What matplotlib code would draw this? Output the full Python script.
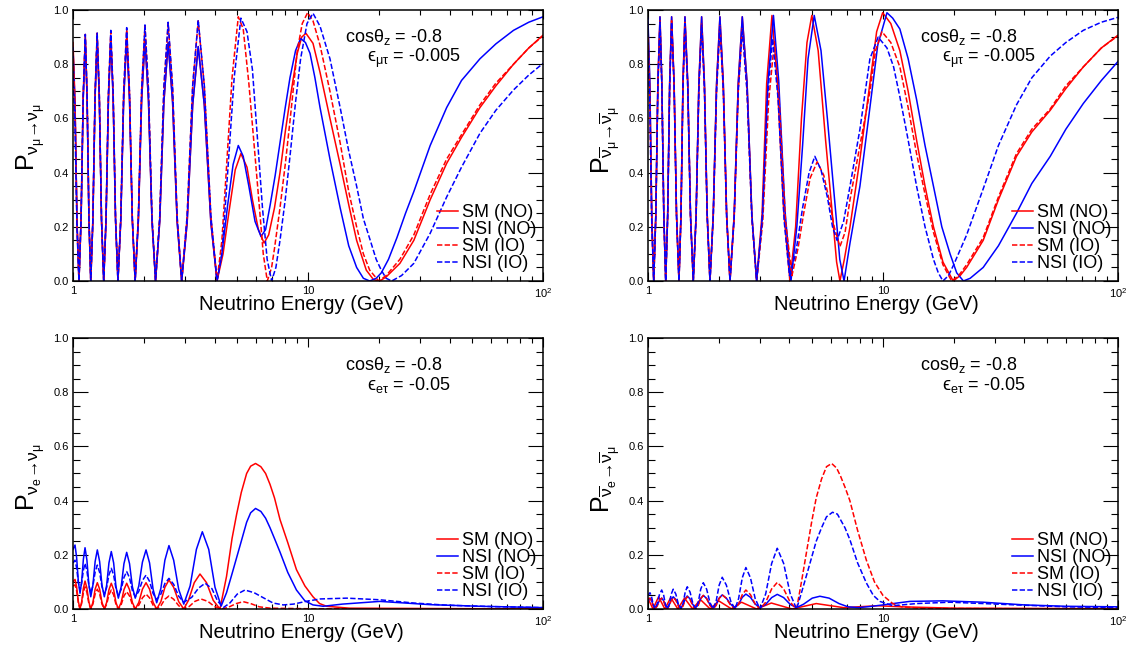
import matplotlib
matplotlib.use('Agg')
import matplotlib.pyplot as plt
from matplotlib.ticker import FixedLocator, FixedFormatter, MultipleLocator, LogLocator, NullFormatter, FormatStrFormatter

plt.rcParams['font.family'] = ['Liberation Sans', 'DejaVu Sans']
plt.rcParams['mathtext.fontset'] = 'custom'
plt.rcParams['mathtext.rm'] = 'Liberation Sans'
plt.rcParams['mathtext.it'] = 'Liberation Sans:italic'
plt.rcParams['mathtext.bf'] = 'Liberation Sans:bold'
plt.rcParams['mathtext.sf'] = 'Liberation Sans'
plt.rcParams['mathtext.fallback'] = 'stixsans'

RED = '#ff0000'
BLUE = '#0000ff'

# ---- top left: P(nu_mu -> nu_mu), eps_mutau = -0.005 ----
tl_E_low = [1.0, 1.02, 1.04, 1.06, 1.082, 1.105, 1.128, 1.148, 1.169, 1.19, 1.215, 1.241, 1.267, 1.294, 1.322,
            1.351, 1.382, 1.415, 1.448, 1.482, 1.517, 1.553, 1.597, 1.643, 1.692, 1.739, 1.788, 1.838, 1.897,
            1.959, 2.024, 2.094, 2.168, 2.245, 2.339, 2.436, 2.54, 2.653, 2.773, 2.90, 3.06, 3.23, 3.41, 3.62,
            3.86, 4.10]
tl_sm_no_low = [0.88, 0.66, 0.22, 0.0,
                0.225, 0.675, 0.90, 0.675, 0.225, 0.0,
                0.225, 0.675, 0.90, 0.675, 0.225, 0.0,
                0.225, 0.675, 0.90, 0.675, 0.225, 0.0,
                0.225, 0.675, 0.90, 0.675, 0.225, 0.0,
                0.222, 0.668, 0.89, 0.668, 0.222, 0.0,
                0.22, 0.66, 0.88, 0.66, 0.22, 0.0,
                0.216, 0.65, 0.865, 0.65, 0.216, 0.0]
tl_nsi_no_low = [0.86, 0.645, 0.215, 0.0,
                 0.224, 0.671, 0.895, 0.671, 0.224, 0.0,
                 0.225, 0.675, 0.90, 0.675, 0.225, 0.0,
                 0.224, 0.671, 0.895, 0.671, 0.224, 0.0,
                 0.224, 0.671, 0.895, 0.671, 0.224, 0.0,
                 0.222, 0.668, 0.89, 0.668, 0.222, 0.0,
                 0.22, 0.66, 0.88, 0.66, 0.22, 0.0,
                 0.216, 0.65, 0.865, 0.65, 0.216, 0.0]
tl_sm_io_low = [0.85, 0.64, 0.21, 0.0,
                0.228, 0.683, 0.91, 0.683, 0.228, 0.0,
                0.229, 0.686, 0.915, 0.686, 0.229, 0.0,
                0.23, 0.69, 0.92, 0.69, 0.23, 0.0,
                0.233, 0.698, 0.93, 0.698, 0.233, 0.0,
                0.235, 0.705, 0.94, 0.705, 0.235, 0.0,
                0.238, 0.713, 0.95, 0.713, 0.238, 0.0,
                0.24, 0.72, 0.96, 0.72, 0.24, 0.0]
tl_nsi_io_low = [0.76, 0.57, 0.19, 0.0,
                 0.228, 0.683, 0.91, 0.683, 0.228, 0.0,
                 0.229, 0.686, 0.915, 0.686, 0.229, 0.0,
                 0.231, 0.694, 0.925, 0.694, 0.231, 0.0,
                 0.234, 0.701, 0.935, 0.701, 0.234, 0.0,
                 0.236, 0.709, 0.945, 0.709, 0.236, 0.0,
                 0.239, 0.716, 0.955, 0.716, 0.239, 0.0,
                 0.241, 0.722, 0.963, 0.722, 0.241, 0.0]

tl_sm_no_E = [4.35, 4.6, 4.9, 5.18, 5.5, 5.8, 6.15, 6.5, 6.8, 7.2, 7.6, 8.0, 8.38, 9.0, 9.4, 9.8, 10.5, 11.25,
              12.4, 13.7, 15.0, 16.1, 17.7, 19.0, 20.2, 21.5, 24.6, 28.2, 33.1, 38.9, 45, 53.9, 63, 74.9, 87, 100]
tl_sm_no_P = [0.1, 0.25, 0.41, 0.47, 0.42, 0.30, 0.19, 0.14, 0.17, 0.27, 0.40, 0.55, 0.67, 0.84, 0.90, 0.914,
              0.877, 0.77, 0.60, 0.43, 0.27, 0.15, 0.04, 0.005, 0.0, 0.015, 0.065, 0.15, 0.30, 0.434, 0.53, 0.64,
              0.72, 0.80, 0.86, 0.907]
tl_nsi_no_E = [4.3, 4.55, 4.8, 5.05, 5.3, 5.6, 5.95, 6.31, 6.6, 6.9, 7.25, 7.6, 8.0, 8.38, 8.85, 9.3, 9.75, 10.2,
               10.7, 11.25, 12.4, 13.7, 14.9, 16.1, 17.2, 18.3, 19.5, 20.5, 22.0, 23.9, 26.0, 28.2, 33.1, 38.9,
               45, 53.9, 63, 74.9, 87, 100]
tl_nsi_no_P = [0.1, 0.28, 0.43, 0.50, 0.46, 0.35, 0.22, 0.164, 0.19, 0.28, 0.39, 0.51, 0.64, 0.75, 0.85, 0.895,
               0.88, 0.84, 0.75, 0.64, 0.45, 0.27, 0.13, 0.05, 0.01, 0.0, 0.01, 0.03, 0.08, 0.16, 0.25, 0.33,
               0.50, 0.64, 0.74, 0.82, 0.875, 0.925, 0.955, 0.975]
tl_sm_io_E = [4.3, 4.5, 4.75, 5.05, 5.3, 5.6, 5.9, 6.2, 6.45, 6.71, 7.0, 7.2, 7.6, 8.0, 8.38, 9.0, 9.45, 9.96,
              10.5, 11.25, 12.4, 13.7, 14.9, 16.1, 17.2, 18.3, 20.0, 21.5, 24.6, 28.2, 33.1, 38.9, 45, 53.9, 63,
              74.9, 87, 100]
tl_sm_io_P = [0.15, 0.42, 0.75, 0.975, 0.93, 0.73, 0.5, 0.28, 0.1, 0.0, 0.05, 0.12, 0.27, 0.43, 0.59, 0.85,
              0.95, 0.99, 0.96, 0.87, 0.70, 0.51, 0.33, 0.2, 0.1, 0.04, 0.0, 0.02, 0.08, 0.17, 0.32, 0.45, 0.54,
              0.65, 0.73, 0.80, 0.86, 0.905]
tl_nsi_io_E = [4.3, 4.55, 4.85, 5.18, 5.5, 5.8, 6.1, 6.4, 6.7, 7.0, 7.3, 7.6, 8.0, 8.38, 8.85, 9.3, 9.9, 10.5,
               11.25, 12.4, 13.7, 14.9, 16.1, 17.2, 18.4, 19.5, 20.5, 21.5, 22.7, 25.0, 28.2, 33.1, 38.9, 45,
               53.9, 63, 74.9, 87, 100]
tl_nsi_io_P = [0.1, 0.40, 0.75, 0.97, 0.92, 0.78, 0.52, 0.27, 0.08, 0.0, 0.05, 0.15, 0.30, 0.46, 0.66, 0.82,
               0.95, 0.988, 0.94, 0.82, 0.64, 0.48, 0.35, 0.23, 0.15, 0.08, 0.04, 0.01, 0.0, 0.02, 0.065, 0.176,
               0.31, 0.42, 0.545, 0.63, 0.705, 0.76, 0.803]

# ---- top right: P(nubar_mu -> nubar_mu), eps_mutau = -0.005 ----
tr_E_low = [1.0, 1.019, 1.038, 1.058, 1.08, 1.102, 1.125, 1.146, 1.168, 1.19, 1.213, 1.237, 1.261, 1.292, 1.323,
            1.355, 1.382, 1.409, 1.437, 1.477, 1.517, 1.559, 1.603, 1.647, 1.692, 1.739, 1.787, 1.836, 1.896,
            1.959, 2.024, 2.092, 2.162, 2.234, 2.328, 2.422, 2.52, 2.641, 2.768, 2.90]
tr_sm_no_low = [0.95, 0.71, 0.24, 0.0,
                0.245, 0.73, 0.975, 0.73, 0.245, 0.0,
                0.245, 0.73, 0.975, 0.73, 0.245, 0.0,
                0.245, 0.73, 0.975, 0.73, 0.245, 0.0,
                0.245, 0.73, 0.975, 0.73, 0.245, 0.0,
                0.245, 0.73, 0.975, 0.73, 0.245, 0.0,
                0.245, 0.73, 0.975, 0.73, 0.245, 0.0]
tr_nsi_no_low = [0.97, 0.73, 0.24, 0.0,
                 0.245, 0.73, 0.975, 0.73, 0.245, 0.0,
                 0.245, 0.73, 0.975, 0.73, 0.245, 0.0,
                 0.245, 0.73, 0.975, 0.73, 0.245, 0.0,
                 0.245, 0.73, 0.975, 0.73, 0.245, 0.0,
                 0.245, 0.73, 0.975, 0.73, 0.245, 0.0,
                 0.245, 0.73, 0.975, 0.73, 0.245, 0.0]
tr_sm_io_low = [0.90, 0.675, 0.225, 0.0,
                0.24, 0.72, 0.96, 0.72, 0.24, 0.0,
                0.24, 0.72, 0.96, 0.72, 0.24, 0.0,
                0.239, 0.716, 0.955, 0.716, 0.239, 0.0,
                0.238, 0.713, 0.95, 0.713, 0.238, 0.0,
                0.236, 0.709, 0.945, 0.709, 0.236, 0.0,
                0.234, 0.701, 0.935, 0.701, 0.234, 0.0]
tr_nsi_io_low = [0.85, 0.64, 0.21, 0.0,
                 0.239, 0.716, 0.955, 0.716, 0.239, 0.0,
                 0.239, 0.716, 0.955, 0.716, 0.239, 0.0,
                 0.238, 0.713, 0.95, 0.713, 0.238, 0.0,
                 0.236, 0.709, 0.945, 0.709, 0.236, 0.0,
                 0.235, 0.705, 0.94, 0.705, 0.235, 0.0,
                 0.233, 0.698, 0.93, 0.698, 0.233, 0.0]

tr_sm_no_E = [3.06, 3.2, 3.37, 3.55, 3.78, 4.02, 4.25, 4.5, 4.75, 4.98, 5.3, 5.7, 6.1, 6.35, 6.56, 6.85, 7.24,
              7.98, 8.8, 9.4, 9.97, 10.8, 11.8, 12.8, 13.9, 15.1, 16.4, 18.0, 19.9, 21.3, 22.7, 26.7, 31, 37, 43,
              51.5, 60, 71.2, 85, 100]
tr_sm_no_P = [0.25, 0.73, 0.98, 0.74, 0.26, 0.0, 0.2, 0.6, 0.88, 0.98, 0.85, 0.52, 0.24, 0.07, 0.0, 0.08, 0.2,
              0.45, 0.73, 0.92, 0.99, 0.95, 0.85, 0.70, 0.52, 0.35, 0.2, 0.07, 0.0, 0.02, 0.05, 0.15, 0.30, 0.46,
              0.55, 0.63, 0.71, 0.79, 0.86, 0.907]
tr_nsi_no_E = [3.08, 3.24, 3.42, 3.6, 3.83, 4.06, 4.3, 4.55, 4.8, 5.1, 5.45, 5.8, 6.3, 6.55, 6.83, 7.24, 7.98,
               8.8, 9.5, 10.4, 11.0, 11.8, 12.8, 13.9, 15.1, 16.4, 17.8, 19.3, 20.6, 22.0, 23.5, 26.7, 31, 37,
               43, 51.5, 60, 71.2, 85, 100]
tr_nsi_no_P = [0.25, 0.73, 0.98, 0.74, 0.26, 0.0, 0.2, 0.5, 0.82, 0.98, 0.85, 0.6, 0.25, 0.08, 0.0, 0.14, 0.35,
               0.64, 0.87, 0.99, 0.97, 0.93, 0.82, 0.67, 0.5, 0.35, 0.2, 0.1, 0.03, 0.0, 0.01, 0.05, 0.13, 0.25,
               0.36, 0.46, 0.56, 0.655, 0.74, 0.81]
tr_sm_io_E = [3.08, 3.26, 3.45, 3.62, 3.85, 4.1, 4.35, 4.6, 4.9, 5.25, 5.6, 5.9, 6.2, 6.56, 6.9, 7.24, 7.98, 8.8,
              9.3, 9.9, 10.8, 11.8, 12.8, 13.9, 15.1, 16.4, 18.0, 19.6, 21.0, 22.7, 26.7, 31, 37, 43, 51.5, 60,
              71.2, 85, 100]
tr_sm_io_P = [0.22, 0.66, 0.883, 0.66, 0.22, 0.02, 0.12, 0.25, 0.38, 0.44, 0.39, 0.30, 0.2, 0.127, 0.18, 0.30,
              0.50, 0.70, 0.85, 0.92, 0.88, 0.79, 0.64, 0.47, 0.32, 0.18, 0.06, 0.0, 0.02, 0.06, 0.16, 0.31, 0.47,
              0.56, 0.635, 0.72, 0.79, 0.86, 0.905]
tr_nsi_io_E = [3.06, 3.22, 3.39, 3.58, 3.8, 4.0, 4.25, 4.55, 4.85, 5.13, 5.45, 5.8, 6.1, 6.38, 6.8, 7.24, 7.98,
               8.8, 9.54, 10.4, 11.1, 11.8, 12.8, 13.9, 15.1, 16.4, 17.2, 18.0, 19.0, 20.0, 22.7, 26.7, 31, 37,
               43, 51.5, 60, 71.2, 85, 100]
tr_nsi_io_P = [0.22, 0.67, 0.895, 0.67, 0.22, 0.02, 0.1, 0.27, 0.4, 0.46, 0.41, 0.31, 0.2, 0.15, 0.22, 0.35,
               0.56, 0.82, 0.90, 0.86, 0.79, 0.68, 0.52, 0.35, 0.2, 0.08, 0.03, 0.0, 0.02, 0.06, 0.17, 0.34, 0.50,
               0.65, 0.75, 0.83, 0.88, 0.925, 0.955, 0.973]

# ---- bottom left: P(nu_e -> nu_mu), eps_etau = -0.05 ----
bl_E_low = [1.0, 1.02, 1.036, 1.054, 1.071, 1.088, 1.107, 1.125, 1.146, 1.168, 1.19, 1.215, 1.242, 1.269, 1.298,
            1.328, 1.359, 1.39, 1.422, 1.455, 1.489, 1.523, 1.559, 1.603, 1.647, 1.692, 1.74, 1.789, 1.84, 1.905,
            1.974, 2.045, 2.117, 2.192, 2.27, 2.365, 2.46, 2.56, 2.681, 2.817, 2.96]
bl_sm_no_low = [0.10, 0.109, 0.082, 0.027, 0.0, 0.026, 0.077, 0.103, 0.077, 0.026, 0.0, 0.024, 0.073, 0.097,
                0.073, 0.024, 0.0, 0.024, 0.071, 0.095, 0.071, 0.024, 0.0, 0.024, 0.071, 0.095, 0.071, 0.024,
                0.0, 0.024, 0.073, 0.097, 0.073, 0.024, 0.0, 0.027, 0.08, 0.107, 0.08, 0.027, 0.0]
bl_nsi_no_low = [0.22, 0.236, 0.19, 0.10, 0.058, 0.10, 0.184, 0.226, 0.18, 0.09, 0.045, 0.088, 0.175, 0.218,
                 0.175, 0.088, 0.045, 0.087, 0.17, 0.212, 0.17, 0.083, 0.04, 0.082, 0.167, 0.209, 0.167, 0.082,
                 0.04, 0.085, 0.173, 0.218, 0.17, 0.072, 0.023, 0.076, 0.18, 0.234, 0.18, 0.072, 0.018]
bl_sm_io_low = [0.085, 0.089, 0.067, 0.022, 0.0, 0.02, 0.061, 0.082, 0.061, 0.02, 0.0, 0.018, 0.055, 0.073,
                0.055, 0.018, 0.0, 0.017, 0.052, 0.07, 0.052, 0.017, 0.0, 0.016, 0.048, 0.064, 0.048, 0.016,
                0.0, 0.014, 0.041, 0.055, 0.041, 0.014, 0.0, 0.012, 0.036, 0.048, 0.036, 0.012, 0.0]
bl_nsi_io_low = [0.17, 0.18, 0.152, 0.097, 0.07, 0.094, 0.143, 0.168, 0.141, 0.087, 0.06, 0.085, 0.136, 0.162,
                 0.135, 0.082, 0.055, 0.079, 0.126, 0.15, 0.125, 0.075, 0.05, 0.072, 0.116, 0.138, 0.115, 0.068,
                 0.045, 0.065, 0.105, 0.125, 0.102, 0.057, 0.035, 0.055, 0.094, 0.113, 0.091, 0.047, 0.025]

bl_sm_no_E = [3.1, 3.28, 3.47, 3.7, 3.95, 4.22, 4.5, 4.75, 4.97, 5.2, 5.48, 5.7, 5.98, 6.3, 6.6, 6.89, 7.2, 7.6,
              8.2, 8.93, 9.7, 10.5, 11.2, 12.0, 15.0, 100]
bl_sm_no_P = [0.032, 0.097, 0.129, 0.097, 0.032, 0.0, 0.12, 0.26, 0.35, 0.43, 0.5, 0.527, 0.537, 0.525, 0.5,
              0.46, 0.41, 0.33, 0.245, 0.145, 0.085, 0.045, 0.02, 0.01, 0.003, 0.0]
bl_nsi_no_E = [3.15, 3.35, 3.55, 3.78, 4.02, 4.27, 4.5, 4.75, 4.97, 5.2, 5.48, 5.7, 5.98, 6.3, 6.6, 6.89, 7.2,
               7.6, 8.2, 8.93, 9.7, 10.5, 11.6, 14.0, 20.2, 33.1, 53.9, 100]
bl_nsi_no_P = [0.085, 0.22, 0.285, 0.22, 0.08, 0.011, 0.06, 0.13, 0.19, 0.25, 0.32, 0.355, 0.371, 0.36, 0.335,
               0.30, 0.26, 0.21, 0.135, 0.07, 0.03, 0.015, 0.01, 0.018, 0.028, 0.016, 0.01, 0.005]
bl_sm_io_E = [3.12, 3.3, 3.5, 3.75, 4.0, 4.3, 4.6, 4.95, 5.3, 5.7, 6.2, 6.9, 10.0, 100]
bl_sm_io_P = [0.009, 0.028, 0.037, 0.028, 0.009, 0.0, 0.007, 0.02, 0.027, 0.02, 0.008, 0.003, 0.001, 0.0]
bl_nsi_io_E = [3.2, 3.42, 3.65, 3.9, 4.12, 4.36, 4.65, 5.0, 5.39, 5.9, 6.5, 7.1, 7.85, 8.67, 9.8, 11.25, 14.6,
               20.2, 28.2, 38.9, 60, 100]
bl_nsi_io_P = [0.043, 0.077, 0.095, 0.075, 0.03, 0.005, 0.022, 0.055, 0.07, 0.06, 0.04, 0.022, 0.015, 0.018,
               0.028, 0.037, 0.04, 0.034, 0.022, 0.014, 0.009, 0.005]

# ---- bottom right: P(nubar_e -> nubar_mu), eps_etau = -0.05 ----
br_E_low = [1.0, 1.02, 1.036, 1.054, 1.071, 1.094, 1.119, 1.144, 1.165, 1.186, 1.208, 1.232, 1.256, 1.281, 1.314,
            1.347, 1.382, 1.411, 1.44, 1.47, 1.511, 1.553, 1.596, 1.636, 1.677, 1.72, 1.777, 1.835, 1.895, 1.951,
            2.009, 2.07, 2.156, 2.25, 2.345, 2.43, 2.52, 2.61, 2.73, 2.86, 2.996, 3.17, 3.36, 3.55, 3.78, 4.03,
            4.29]
br_nsi_no_low = [0.03, 0.04, 0.031, 0.014, 0.005, 0.014, 0.031, 0.04, 0.031, 0.014, 0.005, 0.015, 0.035, 0.045,
                 0.035, 0.015, 0.005, 0.016, 0.037, 0.048, 0.037, 0.016, 0.005, 0.016, 0.039, 0.05, 0.039, 0.016,
                 0.005, 0.017, 0.04, 0.052, 0.04, 0.017, 0.005, 0.018, 0.043, 0.055, 0.043, 0.018, 0.005, 0.017,
                 0.042, 0.054, 0.042, 0.017, 0.005]
br_sm_io_low = [0.035, 0.04, 0.03, 0.01, 0.0, 0.01, 0.03, 0.04, 0.03, 0.01, 0.0, 0.011, 0.032, 0.042, 0.032,
                0.011, 0.0, 0.011, 0.034, 0.045, 0.034, 0.011, 0.0, 0.013, 0.038, 0.05, 0.038, 0.013, 0.0, 0.013,
                0.039, 0.052, 0.039, 0.013, 0.0, 0.018, 0.053, 0.07, 0.053, 0.018, 0.0, 0.025, 0.074, 0.098,
                0.074, 0.025, 0.0]
br_nsi_io_low = [0.05, 0.06, 0.045, 0.015, 0.0, 0.018, 0.053, 0.07, 0.053, 0.018, 0.0, 0.018, 0.055, 0.073,
                 0.055, 0.018, 0.0, 0.02, 0.062, 0.082, 0.062, 0.02, 0.0, 0.024, 0.073, 0.097, 0.073, 0.024, 0.0,
                 0.029, 0.088, 0.117, 0.088, 0.029, 0.0, 0.038, 0.115, 0.153, 0.115, 0.038, 0.0, 0.056, 0.168,
                 0.224, 0.168, 0.056, 0.0]

br_sm_no_E = [1.0, 1.05, 1.11, 1.18, 1.25, 1.34, 1.43, 1.55, 1.67, 1.84, 2.0, 2.27, 2.5, 2.9, 3.35, 4.1, 5.2,
              6.8, 9.5, 12.0, 20.0, 100]
br_sm_no_P = [0.04, 0.0, 0.045, 0.0, 0.042, 0.0, 0.04, 0.0, 0.035, 0.0, 0.03, 0.0, 0.025, 0.0, 0.022, 0.0, 0.02,
              0.005, 0.012, 0.008, 0.003, 0.001]
br_nsi_no_E = [4.6, 5.0, 5.39, 5.9, 6.5, 7.1, 7.86, 8.8, 10.0, 11.5, 13.0, 18.0, 26.7, 40.0, 60.0, 100]
br_nsi_no_P = [0.018, 0.04, 0.047, 0.04, 0.02, 0.008, 0.005, 0.009, 0.015, 0.022, 0.028, 0.03, 0.025, 0.015,
               0.01, 0.008]
br_sm_io_E = [4.5, 4.75, 4.97, 5.2, 5.48, 5.75, 6.05, 6.35, 6.6, 6.89, 7.23, 7.8, 8.5, 9.2, 10.0, 11.0, 12.0,
              15.0, 100]
br_sm_io_P = [0.1, 0.22, 0.32, 0.41, 0.48, 0.525, 0.537, 0.52, 0.49, 0.45, 0.40, 0.29, 0.18, 0.1, 0.05, 0.02,
              0.008, 0.002, 0.0]
br_nsi_io_E = [4.5, 4.75, 4.97, 5.2, 5.48, 5.75, 6.1, 6.4, 6.89, 7.23, 7.8, 8.5, 9.1, 9.7, 11.0, 13.9, 19.3,
               26.7, 37, 60, 100]
br_nsi_io_P = [0.06, 0.13, 0.19, 0.25, 0.30, 0.34, 0.357, 0.35, 0.30, 0.256, 0.17, 0.096, 0.05, 0.028, 0.012,
               0.02, 0.025, 0.02, 0.015, 0.008, 0.005]

labels = ['SM (NO)', 'NSI (NO)', 'SM (IO)', 'NSI (IO)']
styles = [(RED, '-'), (BLUE, '-'), (RED, (0, (3.5, 1.5))), (BLUE, (0, (3.5, 1.5)))]

panels = [
    dict(pos=[0.0645, 0.5677, 0.4152, 0.4169],
         ylabel=r'$\mathrm{P_{ν_{μ}→ν_{μ}}}$', ly=0.53,
         eps=r'$\mathrm{ϵ_{μτ}}$ = -0.005',
         curves=[(tl_E_low + tl_sm_no_E, tl_sm_no_low + tl_sm_no_P),
                 (tl_E_low + tl_nsi_no_E, tl_nsi_no_low + tl_nsi_no_P),
                 (tl_E_low + tl_sm_io_E, tl_sm_io_low + tl_sm_io_P),
                 (tl_E_low + tl_nsi_io_E, tl_nsi_io_low + tl_nsi_io_P)]),
    dict(pos=[0.5724, 0.5677, 0.4152, 0.4169],
         ylabel=r'$\mathrm{P_{\overline{ν}_{μ}→\overline{ν}_{μ}}}$', ly=0.52,
         eps=r'$\mathrm{ϵ_{μτ}}$ = -0.005',
         curves=[(tr_E_low + tr_sm_no_E, tr_sm_no_low + tr_sm_no_P),
                 (tr_E_low + tr_nsi_no_E, tr_nsi_no_low + tr_nsi_no_P),
                 (tr_E_low + tr_sm_io_E, tr_sm_io_low + tr_sm_io_P),
                 (tr_E_low + tr_nsi_io_E, tr_nsi_io_low + tr_nsi_io_P)]),
    dict(pos=[0.0645, 0.0631, 0.4152, 0.4169],
         ylabel=r'$\mathrm{P_{ν_{e}→ν_{μ}}}$', ly=0.485,
         eps=r'$\mathrm{ϵ_{eτ}}$ = -0.05',
         curves=[(bl_E_low + bl_sm_no_E, bl_sm_no_low + bl_sm_no_P),
                 (bl_E_low + bl_nsi_no_E, bl_nsi_no_low + bl_nsi_no_P),
                 (bl_E_low + bl_sm_io_E, bl_sm_io_low + bl_sm_io_P),
                 (bl_E_low + bl_nsi_io_E, bl_nsi_io_low + bl_nsi_io_P)]),
    dict(pos=[0.5724, 0.0631, 0.4152, 0.4169],
         ylabel=r'$\mathrm{P_{\overline{ν}_{e}→\overline{ν}_{μ}}}$', ly=0.48,
         eps=r'$\mathrm{ϵ_{eτ}}$ = -0.05',
         curves=[(br_sm_no_E, br_sm_no_P),
                 (br_E_low + br_nsi_no_E, br_nsi_no_low + br_nsi_no_P),
                 (br_E_low + br_sm_io_E, br_sm_io_low + br_sm_io_P),
                 (br_E_low + br_nsi_io_E, br_nsi_io_low + br_nsi_io_P)]),
]

fig = plt.figure(figsize=(11.32, 6.5), dpi=100)

for p in panels:
    ax = fig.add_axes(p['pos'])
    for (E, P), (c, ls), lab in zip(p['curves'], styles, labels):
        ax.plot(E, P, color=c, linestyle=ls, lw=1.1, label=lab)

    ax.set_xscale('log')
    ax.set_xlim(1, 100)
    ax.set_ylim(0, 1)
    ax.xaxis.set_major_locator(FixedLocator([1, 10, 100]))
    ax.xaxis.set_major_formatter(FixedFormatter(['1', '10', r'$10^{2}$']))
    ax.xaxis.set_minor_locator(LogLocator(base=10, subs=range(2, 10)))
    ax.xaxis.set_minor_formatter(NullFormatter())
    ax.yaxis.set_major_locator(MultipleLocator(0.2))
    ax.yaxis.set_minor_locator(MultipleLocator(0.05))
    ax.yaxis.set_major_formatter(FormatStrFormatter('%.1f'))

    ax.tick_params(axis='both', which='both', direction='in', top=True, right=True,
                   labelsize=8, width=0.8)
    ax.tick_params(axis='x', which='major', length=6.5, pad=3.5)
    ax.tick_params(axis='x', which='minor', length=3.6)
    ax.tick_params(axis='y', which='major', length=10.5, pad=3)
    ax.tick_params(axis='y', which='minor', length=5)
    for s in ax.spines.values():
        s.set_linewidth(1.1)

    ax.set_xlabel('Neutrino Energy (GeV)', fontsize=14.5)
    ax.xaxis.set_label_coords(0.485, -0.05)
    ax.set_ylabel(p['ylabel'], fontsize=18)
    ax.yaxis.set_label_coords(-0.055, p['ly'])

    ax.text(0.579, 0.882, r'cos$\mathrm{θ_{z}}$ = -0.8', transform=ax.transAxes,
            fontsize=13, ha='left', va='baseline')
    ax.text(0.626, 0.808, p['eps'], transform=ax.transAxes,
            fontsize=13, ha='left', va='baseline')

    ax.legend(loc='lower right', bbox_to_anchor=(0.993, 0.02), frameon=False,
              fontsize=13, handlelength=1.15, handletextpad=0.2,
              labelspacing=0.0, borderpad=0.2, borderaxespad=0)

fig.savefig('out.png', dpi=100)
